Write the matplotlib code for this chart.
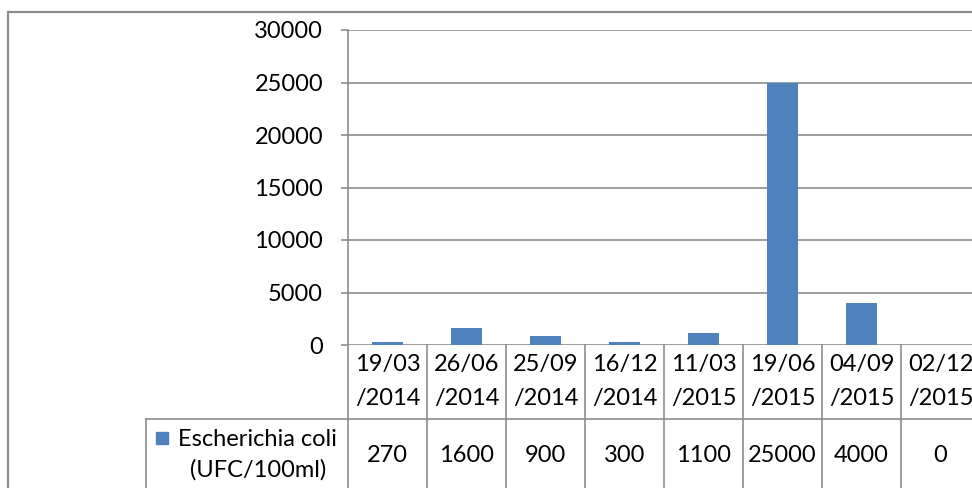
import matplotlib
matplotlib.use('Agg')
from matplotlib import pyplot as plt
from matplotlib.patches import Rectangle

dates = ["19/03\n/2014", "26/06\n/2014", "25/09\n/2014", "16/12\n/2014",
         "11/03\n/2015", "19/06\n/2015", "04/09\n/2015", "02/12\n/2015"]
ecoli = [270, 1600, 900, 300, 1100, 25000, 4000, 0]
yticks = [0, 5000, 10000, 15000, 20000, 25000, 30000]
series_name = "Escherichia coli\n(UFC/100ml)"

W, H = 972, 488
BLUE = "#4F81BD"
GRID = "#8c8c8c"
FS = 17
plt.rcParams['font.family'] = ['Lato', 'DejaVu Sans']

fig = plt.figure(figsize=(W / 100, H / 100), dpi=100)

def fx(px):
    return px / W

def fy(py):
    return 1 - py / H

# plot area: x 348..980 (cut at 972), y 30..345
left, right, top, bottom = 348, 980, 30, 345
ax = fig.add_axes([fx(left), fy(bottom), fx(right - left), (bottom - top) / H])
n = len(ecoli)
ax.bar(range(n), ecoli, width=0.4, color=BLUE, zorder=3)
ax.set_xlim(-0.5, n - 0.5)
ax.set_ylim(0, 30000)
ax.set_yticks(yticks)
ax.set_yticklabels([str(v) for v in yticks], fontsize=FS)
ax.set_xticks([])
ax.grid(axis='y', color=GRID, linewidth=1.2, zorder=0)
for s in ['top', 'right', 'bottom']:
    ax.spines[s].set_visible(False)
ax.spines['left'].set_color(GRID)
ax.spines['left'].set_linewidth(1.2)
ax.tick_params(axis='y', length=5, width=1.2, color=GRID, pad=13)

# data table drawn under the axes
col_w = (right - left) / n
row_mid = 419
for i in range(n + 1):
    x = left + i * col_w
    fig.add_artist(plt.Line2D([fx(x), fx(x)], [fy(bottom), 0], color=GRID, linewidth=1.2))
fig.add_artist(plt.Line2D([fx(146), 1], [fy(row_mid), fy(row_mid)], color=GRID, linewidth=1.2))
fig.add_artist(plt.Line2D([fx(146), fx(146)], [fy(row_mid), 0], color=GRID, linewidth=1.2))

for i, (d, v) in enumerate(zip(dates, ecoli)):
    cx = left + (i + 0.5) * col_w
    top_line, bot_line = d.split("\n")
    fig.text(fx(cx), fy(365), top_line, ha='center', va='center', fontsize=FS)
    fig.text(fx(cx), fy(399), bot_line, ha='center', va='center', fontsize=FS)
    fig.text(fx(cx), fy(455), str(v), ha='center', va='center', fontsize=FS)

# legend key in the table
fig.add_artist(Rectangle((fx(156), fy(444)), fx(12), 12 / H, color=BLUE))
name1, name2 = series_name.split("\n")
fig.text(fx(178), fy(440), name1, ha='left', va='center', fontsize=FS)
fig.text(fx(258), fy(470), name2, ha='center', va='center', fontsize=FS)

# outer chart border (right and bottom fall outside the image)
fig.add_artist(Rectangle((fx(8), -0.1), 1.0, fy(12) + 0.1, fill=False,
                         edgecolor=GRID, linewidth=1.6))

fig.savefig("out.png", dpi=100)
